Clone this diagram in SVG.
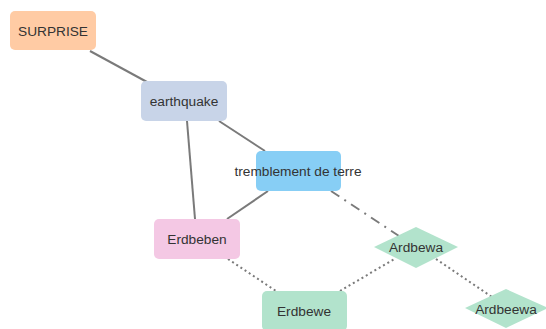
<svg xmlns="http://www.w3.org/2000/svg" width="546" height="329" viewBox="0 0 546 329">
<style>
.e{stroke:#7a7a7a;stroke-width:2;fill:none}
.dot{stroke-dasharray:2 3}
.dd{stroke-dasharray:10 6 2 6}
text{font-family:"Liberation Sans",Arial,sans-serif;font-size:13.7px;fill:#333;text-anchor:middle;dominant-baseline:central}
</style>
<rect width="546" height="329" fill="#fff"/>
<g id="connectors">
<line class="e" x1="90" y1="51" x2="147" y2="82"/>
<line class="e" x1="187" y1="121" x2="195" y2="219"/>
<line class="e" x1="219" y1="121" x2="265" y2="151"/>
<line class="e" x1="268" y1="191" x2="227" y2="219"/>
<line class="e dd" x1="331" y1="191" x2="399" y2="236"/>
<line class="e dot" x1="228" y1="259" x2="276" y2="291"/>
<line class="e dot" x1="340" y1="291" x2="396" y2="258"/>
<line class="e dot" x1="436" y1="259" x2="492" y2="297"/>
</g>
<g id="SURPRISE"><rect x="10" y="11" width="86" height="39" rx="5" fill="#ffcba4"/><text x="53" y="31">SURPRISE</text></g>
<g id="earthquake"><rect x="141" y="81" width="86" height="40" rx="5" fill="#c8d4e8"/><text x="184" y="101">earthquake</text></g>
<g id="tremblement"><rect x="256" y="151" width="85" height="40" rx="5" fill="#87cef5"/><text x="298" y="171">tremblement de terre</text></g>
<g id="Erdbeben"><rect x="154" y="219" width="86" height="40" rx="5" fill="#f4c8e4"/><text x="197" y="239">Erdbeben</text></g>
<g id="Erdbewe"><rect x="262" y="291" width="85" height="40" rx="5" fill="#b2e3cc"/><text x="304" y="311">Erdbewe</text></g>
<g id="Ardbewa"><polygon points="374,247 416,227 458,247 416,268" fill="#b2e3cc"/><text x="416" y="247">Ardbewa</text></g>
<g id="Ardbeewa"><polygon points="465,308 506,289 548,308 506,328" fill="#b2e3cc"/><text x="506" y="309">Ardbeewa</text></g>
</svg>
